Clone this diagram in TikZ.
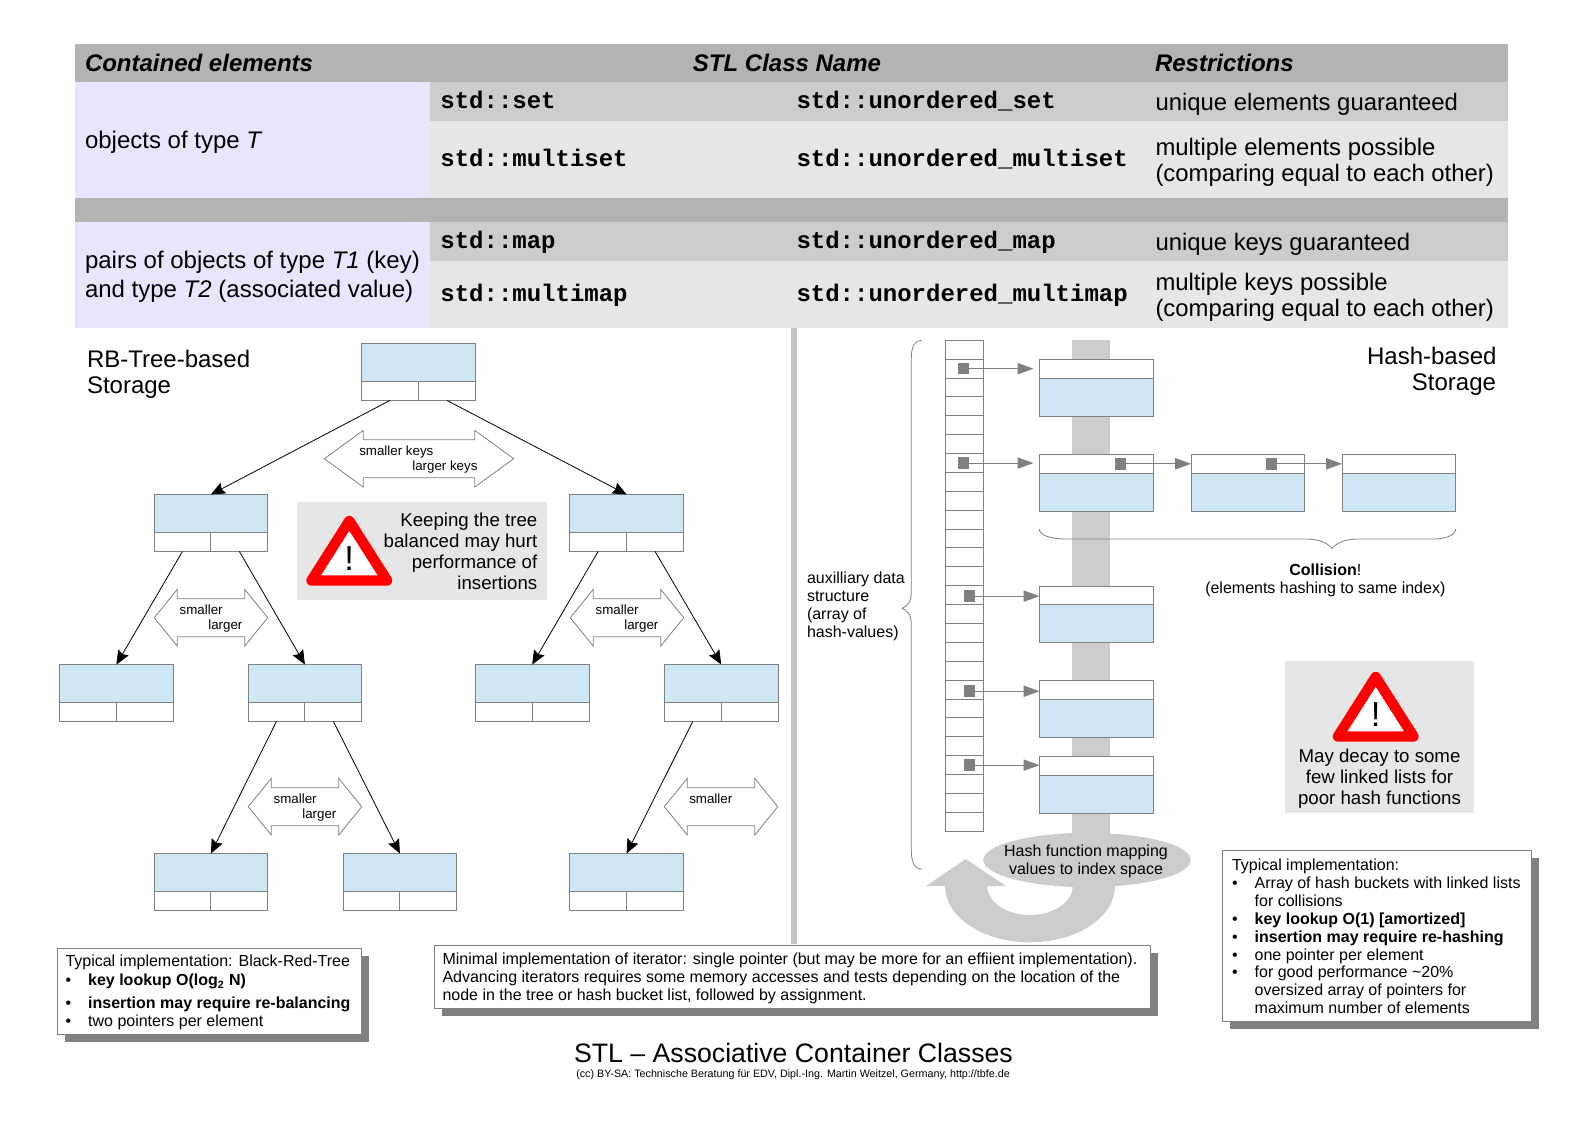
\documentclass[tikz,border=0pt]{standalone}
\usepackage{fontspec}
\setmainfont{Liberation Sans}
\setmonofont{Liberation Mono}
\usetikzlibrary{arrows.meta,positioning,calc,shapes.geometric,shadows}

\definecolor{headgray}{HTML}{B3B3B3}
\definecolor{rowgray}{HTML}{CCCCCC}
\definecolor{lightgray}{HTML}{E6E6E6}
\definecolor{typeblue}{HTML}{E6E6FF}
\definecolor{datablue}{HTML}{CFE7F5}
\definecolor{linegray}{HTML}{808080}

\newcommand{\fsize}[1]{\fontsize{#1}{1.15\dimexpr#1pt\relax}\selectfont}
\newcommand{\bul}[1]{\makebox[17pt][l]{\textbullet}#1}

\tikzset{
  every node/.style={inner sep=0pt,outer sep=0pt},
  cell/.style={anchor=base west,font=\fsize{17.9}},
  typecell/.style={anchor=base west,font=\fsize{18}},
  head/.style={anchor=base west,font=\fsize{18}\bfseries\itshape},
  code/.style={anchor=base west,font=\fsize{18}\ttfamily\bfseries},
  label/.style={anchor=base west,font=\fsize{10}},
  note/.style={font=\fontsize{12}{13.4}\selectfont,align=left},
  warntext/.style={font=\fontsize{14}{15.8}\selectfont},
  treedata/.style={draw=linegray,line width=.75pt,fill=datablue,minimum width=3cm,minimum height=1cm,anchor=north west},
  ptrfield/.style={draw=linegray,line width=.75pt,fill=white,minimum width=1.5cm,minimum height=.5cm},
  listfield/.style={draw=linegray,line width=.75pt,fill=white,minimum width=3cm,minimum height=.5cm,anchor=north west},
  bucket/.style={draw=linegray,line width=.75pt,fill=white,minimum width=1cm,minimum height=.5cm,anchor=north west},
  ptrsq/.style={fill=linegray,minimum size=8.6pt},
  treearrow/.style={draw=black,line width=.6pt,-{Stealth[length=10.5pt,width=9pt,inset=1.5pt]}},
  ptrarrow/.style={draw=linegray,line width=.75pt,-{Triangle[length=12pt,width=8.5pt]}},
  implbox/.style={draw=linegray,line width=.75pt,fill=white,anchor=north west,
    drop shadow={fill=linegray,opacity=1,shadow xshift=5.7pt,shadow yshift=-5.7pt}},
  warnsign/.pic={
    \draw[red,fill=white,line width=7.8pt,line join=round] (0,5) -- (-37.8,64.5) -- (37.8,64.5) -- cycle;
    \node[anchor=base,font=\fsize{26}] (-mark) at (0,54.7) {!};
  }
}

% data part on top, two pointer fields below
\newcommand{\treenode}[3]{
  \node[treedata] (#1) at (#2,#3) {};
  \node[ptrfield,anchor=north west] (#1L) at (#1.south west) {};
  \node[ptrfield,anchor=north east] (#1R) at (#1.south east) {};
}
% link field on top, data part below
\newcommand{\hashnode}[3]{
  \node[listfield] (#1p) at (#2,#3) {};
  \node[treedata] (#1) at (#1p.south west) {};
}
\newcommand{\keyarrow}[4]{
  \draw[linegray,line width=.6pt,fill=white] (#1,#2+28.4) -- ++(#4,-28.4) -- ++(0,9.4) -- (#1+#3-#4,#2+9.4) -- ++(0,-9.4)
    -- (#1+#3,#2+28.4) -- (#1+#3-#4,#2+56.8) -- ++(0,-9.4) -- (#1+#4,#2+47.4) -- ++(0,9.4) -- cycle;
}

\begin{document}
\begin{tikzpicture}[x=.75pt,y=-.75pt]
  \useasboundingbox (0,0) rectangle (1587,1123);

  % table
  \fill[headgray] (75,44) rectangle (1507.7,81.7);
  \fill[rowgray] (430,81.7) rectangle (1507.7,121);
  \fill[lightgray] (430,121) rectangle (1507.7,197.7);
  \fill[headgray] (75,197.7) rectangle (1507.7,221.7);
  \fill[rowgray] (430,221.7) rectangle (1507.7,261);
  \fill[lightgray] (430,261) rectangle (1507.7,327.7);
  \fill[typeblue] (75,81.7) rectangle (430,197.7);
  \fill[typeblue] (75,221.7) rectangle (430,327.7);

  \node[head] (hElem) at (85,72) {Contained elements};
  \node[head,anchor=base] (hName) at (787,72) {STL Class Name};
  \node[head] (hRestr) at (1155,72) {Restrictions};

  \node[typecell] (tSet) at (85,148.3) {objects of type \textit{T}};
  \node[typecell] (tMapA) at (85,268) {pairs of objects of type \textit{T1} (key)};
  \node[typecell] (tMapB) at (85,297) {and type \textit{T2} (associated value)};

  \node[code] (cSet) at (440.4,108.7) {std::set};
  \node[code] (cMultiset) at (440.4,167) {std::multiset};
  \node[code] (cMap) at (440.4,248.7) {std::map};
  \node[code] (cMultimap) at (440.4,301) {std::multimap};
  \node[code] (uSet) at (796.5,108.7) {std::unordered\_set};
  \node[code] (uMultiset) at (796.5,167) {std::unordered\_multiset};
  \node[code] (uMap) at (796.5,248.7) {std::unordered\_map};
  \node[code] (uMultimap) at (796.5,301) {std::unordered\_multimap};

  \node[cell] (rSet) at (1155.5,111) {unique elements guaranteed};
  \node[cell] (rMultisetA) at (1155.5,156) {multiple elements possible};
  \node[cell] (rMultisetB) at (1155.5,181.7) {(comparing equal to each other)};
  \node[cell] (rMap) at (1155.5,250) {unique keys guaranteed};
  \node[cell] (rMultimapA) at (1155.5,290) {multiple keys possible};
  \node[cell] (rMultimapB) at (1155.5,316.7) {(comparing equal to each other)};

  % divider
  \fill[rowgray!90!gray] (790.5,327.7) rectangle (797,944);

  % tree
  \node[typecell] (rbA) at (87,367) {RB-Tree-based};
  \node[typecell] (rbB) at (87,393.5) {Storage};
  \foreach \nname/\xx/\yy in {root/361.5/343.5,a/154/494.5,b/569.7/494.5,c/59.5/664.5,d/248/664.5,e/475.3/664.5,f/664.3/664.5,g/154/853.5,h/343/853.5,i/569.7/853.5} {
    \treenode{\nname}{\xx}{\yy}
  }
  \foreach \from/\to in {rootL/a,rootR/b,aL/c,aR/d,bL/e,bR/f,dL/g,dR/h,fL/i} {
    \draw[treearrow] (\from.south) -- (\to.north);
  }

  \keyarrow{324.3}{430.3}{189.4}{39}
  \node[label] (kSmall) at (359.3,455) {smaller keys};
  \node[label] (kLarge) at (412.3,470) {larger keys};
  \foreach \xx/\yy/\nn in {154.3/589.3/p,570.3/589.3/q,248.3/778.3/r} {
    \keyarrow{\xx}{\yy}{113.4}{23}
    \node[label] (small\nn) at (\xx+25.4,\yy+24.7) {smaller};
    \node[label] (large\nn) at (\xx+54,\yy+39.7) {larger};
  }
  \keyarrow{664.3}{778.3}{113.4}{23}
  \node[label] (smalls) at (689.3,803) {smaller};

  % warning left
  \fill[lightgray] (297,502.3) rectangle (547,599.7);
  \pic (warnL) at (349.3,516) {warnsign};
  \node[warntext,anchor=base east] (wA) at (537.3,526) {Keeping the tree};
  \node[warntext,anchor=base east] (wB) at (537.3,547) {balanced may hurt};
  \node[warntext,anchor=base east] (wC) at (537.3,568) {performance of};
  \node[warntext,anchor=base east] (wD) at (537.3,589) {insertions};

  % hash function band and return arrow
  \fill[rowgray] (1072,340) rectangle (1110,860);
  \fill[rowgray] (1115,886) .. controls (1115,917) and (1077,942.3) .. (1030,942.3)
    .. controls (983,942.3) and (945,917) .. (945,886) -- (926,886) -- (965.7,859) -- (1006,886) -- (987.3,886)
    .. controls (987.3,902) and (1006,915) .. (1030,915) .. controls (1054,915) and (1072.7,902) .. (1072.7,886) -- cycle;
  \node[ellipse,fill=rowgray,minimum width=207.4pt*.75,minimum height=54.3pt*.75] (hashfn) at (1087,860) {};
  \node[anchor=base,font=\fsize{12}] (hfA) at (1086,856.5) {Hash function mapping};
  \node[anchor=base,font=\fsize{12}] (hfB) at (1086,874.3) {values to index space};

  % hash side
  \node[typecell,anchor=base east] (hsA) at (1496.5,364) {Hash-based};
  \node[typecell,anchor=base east] (hsB) at (1496,390.5) {Storage};
  \foreach \n in {0,...,25} {
    \node[bucket] (bucket\n) at (945.3,{340.3+18.88*\n}) {};
  }
  \foreach \nname/\xx/\yy in {hashA/1039.5/359.3,hashB/1039.5/454.3,hashC/1039.5/586,hashD/1039.5/680.5,hashE/1039.5/756.3,hashF/1191/454.3,hashG/1342/454.3} {
    \hashnode{\nname}{\xx}{\yy}
  }
  \node[ptrsq,xshift=-.5pt] (sqA) at (bucket1) {};
  \node[ptrsq,xshift=-.5pt] (sqB) at (bucket6) {};
  \node[ptrsq,xshift=4pt,yshift=-.7pt] (sqC) at (bucket13) {};
  \node[ptrsq,xshift=4pt,yshift=-1.2pt] (sqD) at (bucket18) {};
  \node[ptrsq,xshift=4pt] (sqE) at (bucket22) {};
  \node[ptrsq,xshift=18pt] (sqF) at (hashBp) {};
  \node[ptrsq,xshift=17.6pt] (sqG) at (hashFp) {};
  \draw[ptrarrow,shorten >=4.5pt] (sqA.east) -- (sqA.east -| hashAp.west);
  \draw[ptrarrow,shorten >=4.5pt] (sqB.east) -- (sqB.east -| hashBp.west);
  \draw[ptrarrow] (sqC.east) -- (sqC.east -| hashCp.west);
  \draw[ptrarrow] (sqD.east) -- (sqD.east -| hashDp.west);
  \draw[ptrarrow] (sqE.east) -- (sqE.east -| hashEp.west);
  \draw[ptrarrow] (sqF.east) -- (sqF.east -| hashFp.west);
  \draw[ptrarrow] (sqG.east) -- (sqG.east -| hashGp.west);

  % braces
  \draw[linegray,line width=.6pt] (921.7,340.3) .. controls (915,340.3) and (911.3,346) .. (911.3,358) -- (911.3,592)
    .. controls (911.3,603) and (907,606) .. (902.3,608.3) .. controls (907,610.5) and (911.3,614) .. (911.3,625)
    -- (911.3,851) .. controls (911.3,862) and (915,869.3) .. (921.7,869.3);
  \draw[linegray,line width=.6pt] (1039.3,529) .. controls (1039.3,535) and (1050,539) .. (1066,539) -- (1305,539)
    .. controls (1320,539) and (1327,543) .. (1332,548.3) .. controls (1337,543) and (1344,539) .. (1359,539)
    -- (1433,539) .. controls (1446,539) and (1455.7,535) .. (1455.7,529);
  \node[note,anchor=base west] (auxA) at (807,583.5) {auxilliary data};
  \node[note,anchor=base west] (auxB) at (807,601.5) {structure};
  \node[note,anchor=base west] (auxC) at (807,619.5) {(array of};
  \node[note,anchor=base west] (auxD) at (807,637.5) {hash-values)};
  \node[note,anchor=base] (collA) at (1325.3,575.3) {\textbf{Collision}!};
  \node[note,anchor=base] (collB) at (1325.3,593.7) {(elements hashing to same index)};

  % warning right
  \fill[lightgray] (1285,661) rectangle (1474,812.7);
  \pic (warnR) at (1375.7,672) {warnsign};
  \node[warntext,anchor=base] (wE) at (1379.5,762.7) {May decay to some};
  \node[warntext,anchor=base] (wF) at (1379.5,783.7) {few linked lists for};
  \node[warntext,anchor=base] (wG) at (1379.5,804.3) {poor hash functions};

  % implementation notes
  \node[implbox,minimum width=228.3pt,minimum height=64.5pt] (implTree) at (57.2,948.3) {};
  \node[note,anchor=base west] (implTreeText) at (65.5,1026.3) {%
    Typical implementation: Black-Red-Tree\\[.8pt]
    \bul{\textbf{key lookup O(log\textsubscript{2} N)}}\\[3.6pt]
    \bul{\textbf{insertion may require re-balancing}}\\
    \bul{two pointers per element}};
  \node[implbox,minimum width=537pt,minimum height=47.5pt] (implIter) at (434.3,945.3) {};
  \node[note,anchor=base west] (implIterText) at (442.5,1000.2) {%
    Minimal implementation of iterator: single pointer (but may be more for an effiient implementation).\\
    Advancing iterators requires some memory accesses and tests depending on the location of the\\
    node in the tree or hash bucket list, followed by assignment.};
  \node[implbox,minimum width=232pt,minimum height=128.3pt] (implHash) at (1222.3,850.3) {};
  \node[note,anchor=base west] (implHashText) at (1232,1013.7) {%
    Typical implementation:\\
    \bul{Array of hash buckets with linked lists}\\
    \hspace*{17pt}for collisions\\
    \bul{\textbf{key lookup O(1) [amortized]}}\\
    \bul{\textbf{insertion may require re-hashing}}\\
    \bul{one pointer per element}\\
    \bul{for good performance \textasciitilde 20\%}\\
    \hspace*{17pt}oversized array of pointers for\\
    \hspace*{17pt}maximum number of elements};

  % title
  \node[anchor=base,font=\fsize{20}] (title) at (793.5,1062) {STL – Associative Container Classes};
  \node[anchor=base,font=\fsize{8.05}] (credit) at (793,1077) {(cc) BY-SA: Technische Beratung für EDV, Dipl.-Ing. Martin Weitzel, Germany, http://tbfe.de};
\end{tikzpicture}
\end{document}
